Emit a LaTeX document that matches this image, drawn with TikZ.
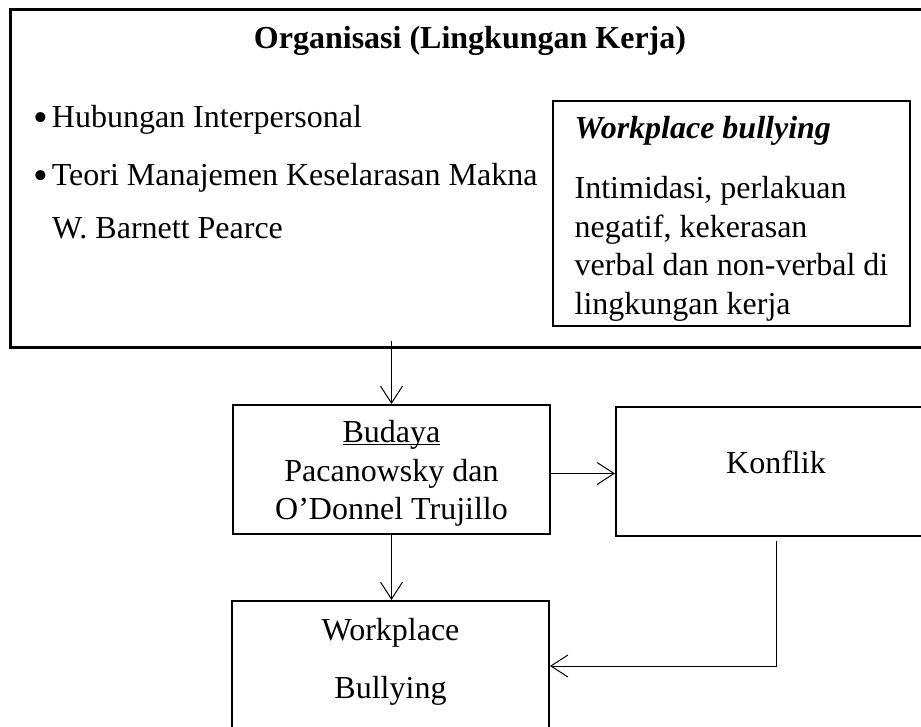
\documentclass[tikz,border=0pt]{standalone}
\usepackage{fontspec}
\setmainfont{Liberation Serif}
\usetikzlibrary{positioning,arrows.meta}

\newcommand{\titik}{\raisebox{-4pt}{\fontsize{42}{42}\selectfont\textbullet}\hspace{4pt}}

\begin{document}
\begin{tikzpicture}[x=1pt,y=-1pt,
	every node/.style={inner sep=0pt, font=\fontsize{32}{38.5}\selectfont},
	kotak/.style={draw, line width=2pt, rectangle, align=center},
	panah/.style={-{Straight Barb[length=17pt,width=22pt]}, line width=1pt}]
	\useasboundingbox (0,0) rectangle (921,726);
	\clip (0,0) rectangle (921,726);
	% kotak besar organisasi
	\node [draw, line width=3pt, minimum width=931, minimum height=338, anchor=north west] (organisasi) at (9,8) {};
	\node [anchor=base, font=\fontsize{32}{38.5}\selectfont\bfseries] (judul) at (470,48) {Organisasi (Lingkungan Kerja)};
	\node [anchor=base west] (hubungan) at (33,127) {\titik Hubungan Interpersonal};
	\node [anchor=base west] (teori) at (33,185) {\titik Teori Manajemen Keselarasan Makna};
	\node [anchor=base west] (pearce) at (52,238) {W. Barnett Pearce};
	\node [kotak, align=left, minimum width=357, minimum height=225, anchor=north west] (wb) at (552,100)
		{\rule{0pt}{32pt}{\bfseries\itshape Workplace bullying}\\[22pt]
		Intimidasi, perlakuan\\negatif, kekerasan\\verbal dan non-verbal di\\lingkungan kerja};
	% kotak bawah
	\node [kotak, minimum width=317, minimum height=129, anchor=north west] (budaya) at (232,404)
		{\rule{0pt}{30pt}\underline{Buda\smash{y}a}\\Pacanowsky dan\\O’Donnel Trujillo};
	\node [kotak, minimum width=320, minimum height=129, text depth=19pt, anchor=north west] (konflik) at (615,406) {Konflik};
	\node [kotak, minimum width=317, minimum height=130, anchor=north west] (bullying) at (231,600)
		{Workplace\\[19pt]Bullying\rule[-15pt]{0pt}{15pt}};
	% panah
	\draw [panah] ([yshift=8pt]organisasi.south -| budaya.north) -- (budaya.north);
	\draw [panah] ([yshift=-4pt]budaya.east) -- ([yshift=-4pt]budaya.east -| konflik.west);
	\draw [panah] (budaya.south) -- (budaya.south |- bullying.north);
	\draw [panah] ([yshift=-4pt]konflik.south) |- (bullying.east);
\end{tikzpicture}
\end{document}
